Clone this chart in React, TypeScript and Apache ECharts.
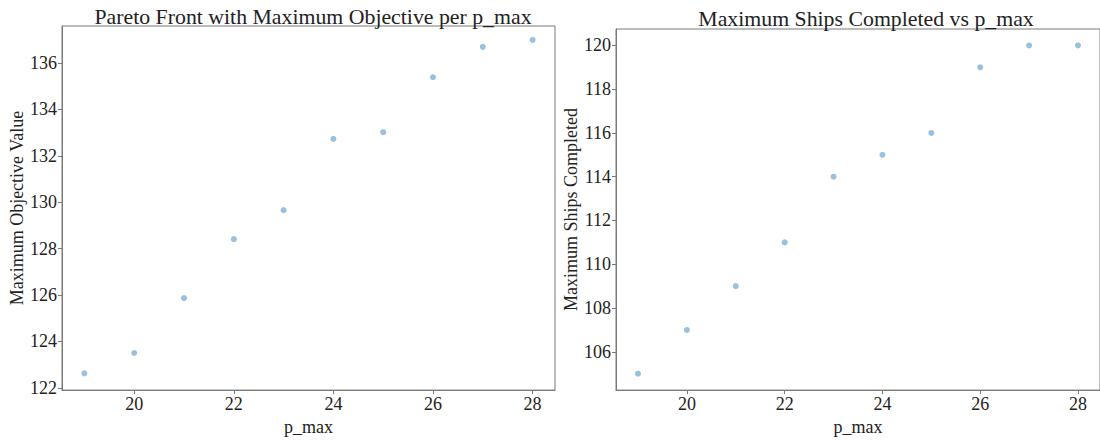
import React, { useEffect, useRef } from "react";
import * as echarts from "echarts";

const pMax = [19, 20, 21, 22, 23, 24, 25, 26, 27, 28];
const maxObjective = [122.62, 123.5, 125.87, 128.41, 129.66, 132.73, 133.02, 135.39, 136.7, 137.0];
const maxShips = [105, 107, 109, 111, 114, 115, 116, 119, 120, 120];
const xTicks = [20, 22, 24, 26, 28];
const yTicksLeft = [122, 124, 126, 128, 130, 132, 134, 136];
const yTicksRight = [106, 108, 110, 112, 114, 116, 118, 120];

const FONT = "'Liberation Serif', 'Times New Roman', serif";
const AXIS_COLOR = "#7a7a7a";
const TEXT_COLOR = "#222";
const POINT_COLOR = "#7fb1d6";

export default function App() {
  const ref = useRef<HTMLDivElement>(null);
  useEffect(() => {
    if (!ref.current) return;
    const chart = echarts.init(ref.current, undefined, { renderer: "svg" });
    const xAxisBase = (gridIndex: number) => ({
      type: "value",
      gridIndex,
      min: 18.55,
      max: 28.45,
      name: "p_max",
      nameLocation: "middle",
      nameGap: 24,
      nameTextStyle: { fontFamily: FONT, fontSize: 18, color: TEXT_COLOR },
      axisLine: { show: true, lineStyle: { color: AXIS_COLOR, width: 1 } },
      axisTick: { show: true, length: 4, lineStyle: { color: AXIS_COLOR }, customValues: xTicks },
      axisLabel: { fontFamily: FONT, fontSize: 18, color: TEXT_COLOR, margin: 5, customValues: xTicks },
      splitLine: { show: false },
    });
    const yAxisBase = (gridIndex: number, min: number, max: number, ticks: number[], name: string, gap: number) => ({
      type: "value",
      gridIndex,
      min,
      max,
      name,
      nameLocation: "middle",
      nameGap: gap,
      nameTextStyle: { fontFamily: FONT, fontSize: 18, color: TEXT_COLOR },
      axisLine: { show: true, lineStyle: { color: AXIS_COLOR, width: 1 } },
      axisTick: { show: true, length: 4, lineStyle: { color: AXIS_COLOR }, customValues: ticks },
      axisLabel: { fontFamily: FONT, fontSize: 18, color: TEXT_COLOR, margin: 5, customValues: ticks },
      splitLine: { show: false },
    });
    chart.setOption({
      animation: false,
      backgroundColor: "#ffffff",
      title: [
        {
          text: "Pareto Front with Maximum Objective per p_max",
          left: 308,
          textAlign: "center",
          top: 1,
          textStyle: { fontFamily: FONT, fontSize: 21.8, fontWeight: "normal", color: TEXT_COLOR },
        },
        {
          text: "Maximum Ships Completed vs p_max",
          left: 861,
          textAlign: "center",
          top: 3,
          textStyle: { fontFamily: FONT, fontSize: 21.8, fontWeight: "normal", color: TEXT_COLOR },
        },
      ],
      grid: [
        { left: 62, top: 26, width: 493, height: 366, show: true, borderColor: AXIS_COLOR, borderWidth: 1, backgroundColor: "transparent" },
        { left: 616, top: 29, width: 490, height: 363, show: true, borderColor: AXIS_COLOR, borderWidth: 1, backgroundColor: "transparent" },
      ],
      xAxis: [xAxisBase(0), xAxisBase(1)],
      yAxis: [
        yAxisBase(0, 121.9, 137.6, yTicksLeft, "Maximum Objective Value", 33),
        yAxisBase(1, 104.25, 120.75, yTicksRight, "Maximum Ships Completed", 34),
      ],
      series: [
        {
          type: "scatter",
          xAxisIndex: 0,
          yAxisIndex: 0,
          symbolSize: 6,
          itemStyle: { color: POINT_COLOR },
          data: pMax.map((p, i) => [p, maxObjective[i]]),
        },
        {
          type: "scatter",
          xAxisIndex: 1,
          yAxisIndex: 1,
          symbolSize: 6,
          itemStyle: { color: POINT_COLOR },
          data: pMax.map((p, i) => [p, maxShips[i]]),
        },
      ],
    });
    return () => chart.dispose();
  }, []);
  return (
    <div
      ref={ref}
      style={{ position: "absolute", left: 0, top: 0, width: 1100, height: 441, overflow: "hidden" }}
    />
  );
}
